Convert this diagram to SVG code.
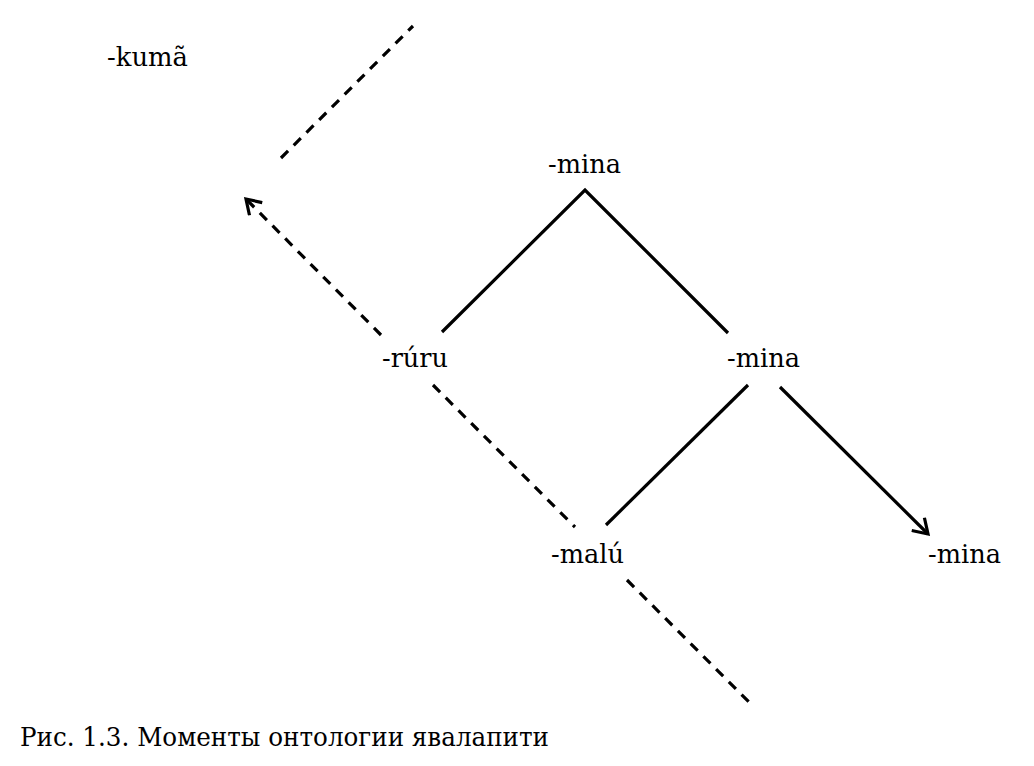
<svg xmlns="http://www.w3.org/2000/svg" width="1034" height="766" viewBox="0 0 1034 766">
<style>
text{font-family:'DejaVu Serif','Liberation Serif',serif;font-size:26px;fill:#000}
.s{stroke:#000;stroke-width:3.2;fill:none}
.d{stroke-dasharray:10 8}
</style>
<defs>
<marker id="ah" viewBox="0 0 20 20" refX="17" refY="10" markerWidth="20" markerHeight="20" markerUnits="userSpaceOnUse" orient="auto">
<path d="M3,1 L17,10 L3,19" stroke="#000" stroke-width="3.2" fill="none"/>
</marker>
</defs>
<rect width="1034" height="766" fill="#fff"/>
<g id="connectors">
<line class="s d" x1="281" y1="158" x2="413" y2="26"/>
<line class="s d" x1="381" y1="335" x2="246" y2="199" marker-end="url(#ah)"/>
<polyline class="s" points="442,332 585,190 728,333"/>
<line class="s" x1="606" y1="525" x2="748" y2="385"/>
<line class="s" x1="780" y1="387" x2="928" y2="534" marker-end="url(#ah)"/>
<line class="s d" x1="433" y1="385" x2="575" y2="527"/>
<line class="s d" x1="627" y1="580" x2="751" y2="704"/>
</g>
<g id="n-kuma"><text x="107" y="66" textLength="81" lengthAdjust="spacingAndGlyphs">-kumã</text></g>
<g id="n-mina-top"><text x="548" y="173" textLength="73" lengthAdjust="spacingAndGlyphs">-mina</text></g>
<g id="n-ruru"><text x="382" y="367" textLength="66" lengthAdjust="spacingAndGlyphs">-rúru</text></g>
<g id="n-mina-mid"><text x="727" y="367" textLength="73" lengthAdjust="spacingAndGlyphs">-mina</text></g>
<g id="n-malu"><text x="551" y="563" textLength="73" lengthAdjust="spacingAndGlyphs">-malú</text></g>
<g id="n-mina-right"><text x="928" y="563" textLength="73" lengthAdjust="spacingAndGlyphs">-mina</text></g>
<g id="caption"><text x="20" y="746" textLength="529" lengthAdjust="spacingAndGlyphs">Рис. 1.3. Моменты онтологии явалапити</text></g>
</svg>
